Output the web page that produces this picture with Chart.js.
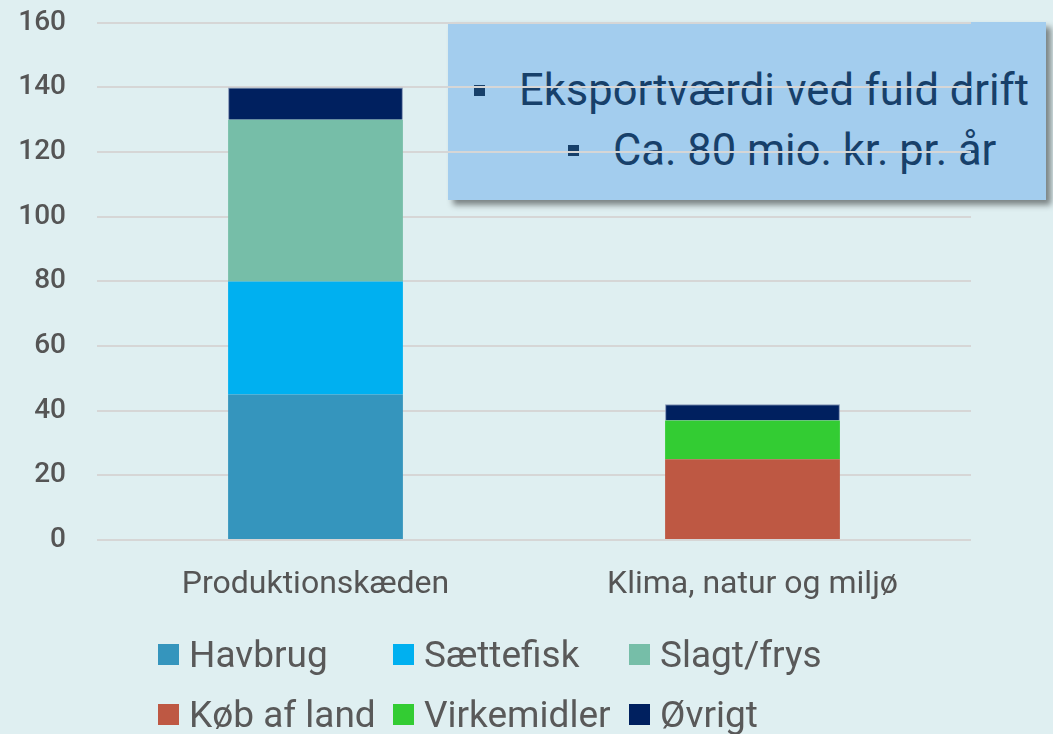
<!DOCTYPE html>
<html>
<head>
<meta charset="utf-8">
<script src="https://cdn.jsdelivr.net/npm/chart.js@4"></script>
<style>
  body { margin: 0; background: #dfeff1; font-family: Roboto, sans-serif; }
  #wrap { position: relative; width: 1053px; height: 734px; overflow: hidden; }
  #note {
    position: absolute; left: 448px; top: 22px; width: 598px; height: 178px;
    background: #a3cdee; box-shadow: 5px 5px 6px rgba(0,0,0,0.45);
    color: #17406a; font-size: 43.5px; z-index: 1;
  }
  #note .row { position: absolute; display: flex; align-items: center; height: 50px; white-space: nowrap; }
  #note .dot { width: 11px; height: 11px; background: #17406a; display: inline-block; }
  #chartBox { position: absolute; left: 0; top: -25px; width: 1053px; height: 645px; z-index: 2; }
  #legend { position: absolute; left: 0; top: 0; width: 1053px; height: 734px; z-index: 3; pointer-events: none; }
  .item { position: absolute; display: flex; align-items: center; height: 44px; font-size: 37px; color: #595959; white-space: nowrap; }
  .item .sw { width: 21px; height: 21px; margin-right: 10px; }
</style>
</head>
<body>
<div id="wrap">
  <div id="note">
    <div class="row" style="left:26px; top:43px;"><span class="dot"></span><span style="margin-left:34px;">Eksportværdi ved fuld drift</span></div>
    <div class="row" style="left:120px; top:103px;"><span class="dot"></span><span style="margin-left:34px;">Ca. 80 mio. kr. pr. år</span></div>
  </div>
  <div id="chartBox"><canvas id="c" width="1053" height="645"></canvas></div>
  <div id="legend"></div>
</div>
<script>
// categories
const categories = ['Produktionskæden', 'Klima, natur og miljø'];

// series (mio. kr.)
const havbrug     = [45, null];
const saettefisk  = [35, null];
const slagtFrys   = [50, null];
const koebAfLand  = [null, 25];
const virkemidler = [null, 12];
const oevrigt     = [10, 5];

const yTicks = [0, 20, 40, 60, 80, 100, 120, 140, 160];

const series = [
    { label: 'Havbrug', data: havbrug, color: '#3595bd' },
    { label: 'Sættefisk', data: saettefisk, color: '#00b0f0' },
    { label: 'Slagt/frys', data: slagtFrys, color: '#76bea8' },
    { label: 'Køb af land', data: koebAfLand, color: '#be5843' },
    { label: 'Virkemidler', data: virkemidler, color: '#33cc33' },
    { label: 'Øvrigt', data: oevrigt, color: '#00205f' },
];

const font = 'Roboto, "Noto Sans", sans-serif';

const chart = new Chart(document.getElementById('c'), {
    type: 'bar',
    data: {
        labels: categories,
        datasets: series.map(s => ({
            label: s.label,
            data: s.data,
            backgroundColor: s.color,
            borderColor: s.label === 'Øvrigt' ? '#8596b5' : s.color,
            borderWidth: s.label === 'Øvrigt' ? 1 : 0,
            barPercentage: 0.4,
            categoryPercentage: 1,
        })),
    },
    options: {
        responsive: false,
        animation: false,
        layout: { padding: { top: 0, right: 82, bottom: 0, left: 0 } },
        plugins: {
            legend: { display: false },
            tooltip: { enabled: false },
        },
        scales: {
            x: {
                stacked: true,
                grid: { display: false },
                border: { display: false },
                ticks: { color: '#555555', font: { family: font, size: 32 }, padding: 18 },
                afterFit: (scale) => { scale.height = 80; },
            },
            y: {
                stacked: true,
                min: yTicks[0],
                max: yTicks[yTicks.length - 1],
                afterBuildTicks: (scale) => { scale.ticks = yTicks.map(v => ({ value: v })); },
                grid: { color: '#d6d6d6', lineWidth: 2, drawTicks: false },
                border: { display: false },
                ticks: { color: '#555555', font: { family: font, size: 28, weight: '500' }, padding: 31 },
                afterFit: (scale) => { scale.width = 97; },
            },
        },
    },
});

// legend in three columns, two rows
const legend = document.getElementById('legend');
const colX = [158, 393, 629];
const rowY = [654, 714];
chart.data.datasets.forEach((ds, i) => {
    const el = document.createElement('div');
    el.className = 'item';
    el.style.left = colX[i % 3] + 'px';
    el.style.top = (rowY[Math.floor(i / 3)] - 22) + 'px';
    const sw = document.createElement('span');
    sw.className = 'sw';
    sw.style.background = ds.backgroundColor;
    const tx = document.createElement('span');
    tx.textContent = ds.label;
    el.appendChild(sw);
    el.appendChild(tx);
    legend.appendChild(el);
});
</script>
</body>
</html>
